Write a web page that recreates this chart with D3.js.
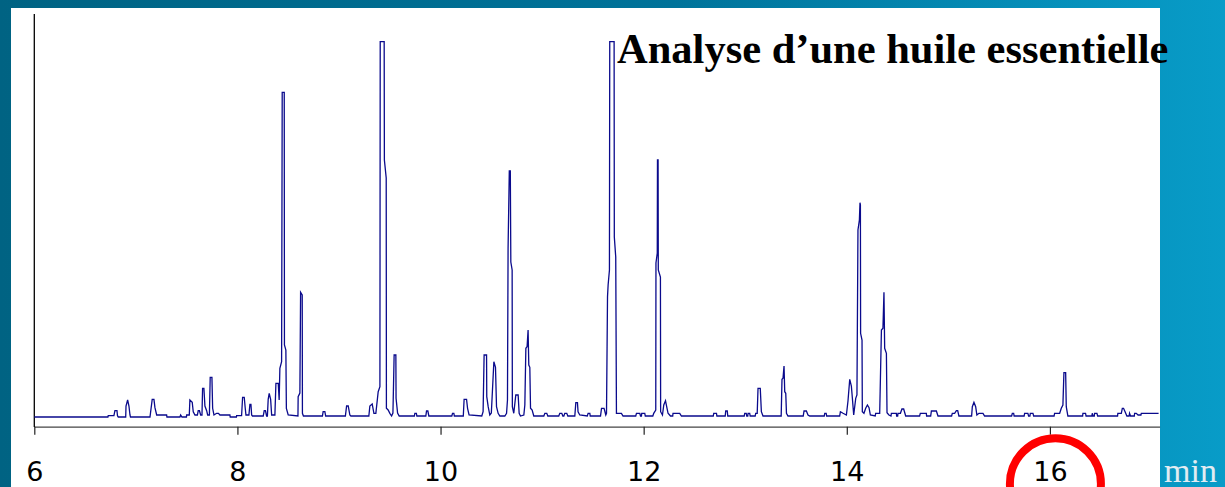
<!DOCTYPE html>
<html>
<head>
<meta charset="utf-8">
<script src="https://cdn.jsdelivr.net/npm/d3@7"></script>
<style>
  html, body { margin: 0; padding: 0; overflow: hidden; }
  svg { display: block; }
</style>
</head>
<body>
<svg id="chart" width="1225" height="487"></svg>
<script>
var retentionTimes = [
  6.000, 6.725, 6.728, 6.784, 6.794, 6.814, 6.819, 6.827, 6.900, 6.903,
  6.919, 6.932, 6.942, 6.947, 7.139, 7.161, 7.178, 7.188, 7.205, 7.303,
  7.306, 7.434, 7.441, 7.454, 7.498, 7.500, 7.526, 7.532, 7.555, 7.565,
  7.582, 7.606, 7.614, 7.626, 7.638, 7.651, 7.657, 7.670, 7.680, 7.697,
  7.707, 7.724, 7.732, 7.749, 7.756, 7.769, 7.795, 7.813, 7.828, 7.926,
  7.929, 7.990, 7.992, 8.041, 8.051, 8.067, 8.077, 8.084, 8.113, 8.123,
  8.133, 8.140, 8.148, 8.254, 8.264, 8.276, 8.287, 8.295, 8.303, 8.313,
  8.327, 8.337, 8.369, 8.379, 8.402, 8.411, 8.418, 8.435, 8.441, 8.461,
  8.463, 8.477, 8.482, 8.500, 8.596, 8.598, 8.615, 8.622, 8.638, 8.640,
  8.650, 8.837, 8.844, 8.861, 8.869, 9.063, 9.075, 9.091, 9.107, 9.117,
  9.294, 9.304, 9.327, 9.344, 9.363, 9.386, 9.403, 9.406, 9.445, 9.447,
  9.465, 9.467, 9.484, 9.501, 9.518, 9.531, 9.534, 9.543, 9.560, 9.562,
  9.577, 9.593, 9.742, 9.747, 9.762, 9.767, 9.855, 9.862, 9.875, 9.885,
  10.111, 10.118, 10.131, 10.136, 10.224, 10.232, 10.256, 10.266, 10.281, 10.406,
  10.419, 10.429, 10.453, 10.455, 10.469, 10.485, 10.500, 10.508, 10.525, 10.541,
  10.551, 10.567, 10.584, 10.633, 10.650, 10.659, 10.665, 10.677, 10.687, 10.692,
  10.705, 10.707, 10.721, 10.741, 10.764, 10.774, 10.787, 10.820, 10.830, 10.840,
  10.852, 10.862, 10.869, 10.879, 10.886, 10.902, 10.918, 11.017, 11.027, 11.046,
  11.056, 11.164, 11.174, 11.194, 11.204, 11.214, 11.223, 11.243, 11.253, 11.322,
  11.332, 11.348, 11.354, 11.371, 11.445, 11.453, 11.470, 11.474, 11.575, 11.585,
  11.610, 11.627, 11.634, 11.644, 11.650, 11.663, 11.666, 11.709, 11.711, 11.725,
  11.732, 11.781, 11.797, 11.922, 11.929, 11.962, 11.969, 11.978, 11.981, 12.011,
  12.016, 12.090, 12.099, 12.119, 12.121, 12.134, 12.136, 12.142, 12.144, 12.165,
  12.167, 12.185, 12.198, 12.215, 12.230, 12.240, 12.264, 12.286, 12.289, 12.355,
  12.372, 12.685, 12.690, 12.717, 12.721, 12.803, 12.808, 12.823, 12.828, 12.990,
  12.995, 13.010, 13.015, 13.025, 13.028, 13.044, 13.049, 13.098, 13.103, 13.118,
  13.126, 13.148, 13.159, 13.175, 13.354, 13.362, 13.372, 13.382, 13.389, 13.399,
  13.406, 13.421, 13.571, 13.579, 13.602, 13.618, 13.635, 13.778, 13.783, 13.797,
  13.802, 13.930, 13.937, 13.963, 13.996, 14.012, 14.029, 14.045, 14.055, 14.068,
  14.088, 14.100, 14.110, 14.124, 14.130, 14.134, 14.136, 14.150, 14.153, 14.169,
  14.186, 14.203, 14.219, 14.232, 14.280, 14.284, 14.324, 14.341, 14.356, 14.366,
  14.373, 14.390, 14.396, 14.415, 14.435, 14.439, 14.488, 14.491, 14.501, 14.504,
  14.528, 14.543, 14.560, 14.580, 14.717, 14.724, 14.783, 14.786, 14.826, 14.833,
  14.882, 14.898, 15.032, 15.039, 15.062, 15.079, 15.092, 15.104, 15.229, 15.236,
  15.252, 15.269, 15.281, 15.301, 15.341, 15.357, 15.623, 15.630, 15.643, 15.648,
  15.746, 15.751, 15.783, 15.790, 15.803, 15.807, 15.833, 15.840, 16.041, 16.046,
  16.096, 16.112, 16.128, 16.138, 16.155, 16.161, 16.177, 16.322, 16.325, 16.351,
  16.356, 16.413, 16.417, 16.425, 16.437, 16.440, 16.463, 16.470, 16.666, 16.669,
  16.703, 16.713, 16.725, 16.740, 16.758, 16.780, 16.784, 16.794, 16.831, 16.834,
  16.850, 16.868, 16.896, 16.900, 17.070
];

var intensities = [
  0, 0, 1.3, 1.3, 6.3, 6.3, 1.3, 0, 0, 11,
  17, 11, 2, 0, 0, 17.7, 17.7, 9.3, 2, 2,
  0, 0, 2, 0, 0, 2, 2, 17, 14.7, 5.3,
  2, 2, 6.3, 6.3, 2, 2, 28.7, 28.7, 11, 6.3,
  2, 2, 39.7, 39.7, 8.7, 2, 3.7, 3.7, 2, 2,
  0, 0, 1.3, 1.3, 19.7, 19.7, 8.7, 2, 2, 12.7,
  12.7, 2, 1, 1, 6.3, 6.3, 1, 1, 17.7, 23.7,
  17.7, 2, 2, 33.7, 33.7, 17, 48.7, 55.3, 324.7, 324.7,
  72, 67, 8.7, 2, 1, 20.3, 24, 124.7, 122, 3.7,
  1, 1, 5.3, 5.3, 1, 1, 11, 11, 2, 1,
  1, 11, 13, 3.7, 3.7, 25.3, 30.3, 375.3, 375.3, 257,
  239, 8.7, 7, 3.7, 1, 4, 17, 62, 62, 18.7,
  4, 1, 1, 3.7, 3.7, 1, 1, 6, 6, 1,
  1, 3.7, 3.7, 1, 1, 17.7, 17.7, 8.7, 2, 1,
  5.3, 62, 62, 20.3, 10.3, 2, 4, 20.3, 55.3, 49.7,
  10.3, 3.7, 1, 1, 3.7, 17, 169, 246, 246, 155,
  147, 10.3, 3.7, 22, 22, 3.7, 1, 2, 12, 68.7,
  70.3, 87, 52, 49.7, 8.7, 7, 1, 1, 3.7, 3.7,
  1, 1, 3.7, 3.7, 1, 1, 3.7, 3.7, 1, 1,
  14.3, 14.3, 5.3, 2, 1, 3.7, 3.7, 1, 1, 8.7,
  8.7, 2, 3.7, 120.3, 132, 147, 375.3, 375.3, 180, 160,
  3.7, 3.7, 1, 1, 3.7, 3.7, 1, 1, 3.7, 3.7,
  1, 1, 3.7, 7, 154, 164, 257, 257, 147, 140,
  5.3, 2, 12, 16.3, 8.7, 3.7, 1, 1, 3.7, 3.7,
  1, 1, 3.7, 3.7, 1, 1, 6, 6, 1, 1,
  3.7, 3.7, 1, 1, 3.7, 3.7, 1, 1, 3.7, 3.7,
  28.7, 28.7, 5.3, 1, 1, 37.7, 38.7, 51, 25.3, 23.7,
  3.7, 1, 1, 6, 6, 2, 1, 1, 3.7, 3.7,
  1, 1, 5.3, 3.7, 2, 16.3, 37.7, 31, 18.7, 2,
  18.7, 22, 187, 197, 214.3, 212, 83.7, 77, 5.3, 3.7,
  8.7, 12, 9.3, 2, 1, 3.7, 3.7, 87, 88.7, 124.7,
  68.7, 63.7, 4.3, 2, 1, 3.7, 3.7, 1, 1, 3.7,
  3.7, 8, 8, 1, 1, 3.7, 3.7, 1, 1, 6,
  6, 1, 1, 3.7, 3.7, 6.3, 6.3, 1, 1, 10.3,
  14.7, 10.3, 2, 3.7, 3.7, 1, 1, 3.7, 3.7, 1,
  1, 3.7, 3.7, 1, 1, 3.7, 3.7, 1, 1, 3.7,
  3.7, 8.7, 12, 44.3, 44.3, 10.3, 1, 1, 3.7, 3.7,
  1, 1, 3.7, 1, 1, 3.7, 3.7, 1, 1, 3.7,
  3.7, 8.7, 8.7, 5.3, 1, 1, 3.7, 1, 1, 3.7,
  3.7, 2, 2, 3.7, 3.7
];

var timeTicks = [6, 8, 10, 12, 14, 16];
var timeDomain = [6, 17.08];
var signalDomain = [0, 375];
var titleText = 'Analyse d\u2019une huile essentielle';
var unitText = 'min';
var circledTick = 16;

var svg = d3.select('#chart');

var x = d3.scaleLinear().domain(timeDomain).range([34.3, 1159.6]);
var y = d3.scaleLinear().domain(signalDomain).range([417, 42]);

drawBackground();
drawAxes();
drawTrace();
drawLabels();

function drawBackground() {
  var grad = svg.append('defs').append('linearGradient')
    .attr('id', 'bg')
    .attr('x1', '0%').attr('y1', '0%')
    .attr('x2', '100%').attr('y2', '0%');
  grad.append('stop').attr('offset', '0%').attr('stop-color', '#006383');
  grad.append('stop').attr('offset', '55%').attr('stop-color', '#00739a');
  grad.append('stop').attr('offset', '100%').attr('stop-color', '#089cc8');

  svg.append('rect')
    .attr('width', 1225).attr('height', 487)
    .attr('fill', 'url(#bg)');

  svg.append('rect')
    .attr('x', 11).attr('y', 8)
    .attr('width', 1149).attr('height', 479)
    .attr('fill', '#ffffff');
}

function drawAxes() {
  var axis = d3.axisBottom(x)
    .tickValues(timeTicks)
    .tickFormat(d3.format('d'))
    .tickSize(8)
    .tickSizeOuter(0)
    .tickPadding(27);

  var g = svg.append('g')
    .attr('transform', 'translate(0,426.7)')
    .call(axis);

  g.select('.domain').attr('stroke', '#444').attr('stroke-width', 1.2);
  g.selectAll('.tick line').attr('stroke', '#222').attr('stroke-width', 1.2);
  g.selectAll('.tick text')
    .attr('fill', '#000')
    .style('font-family', '"DejaVu Sans", Verdana, sans-serif')
    .style('font-size', '27px');

  svg.append('line')
    .attr('x1', x(timeDomain[0])).attr('x2', x(timeDomain[0]))
    .attr('y1', 14).attr('y2', 427)
    .attr('stroke', '#000')
    .attr('stroke-width', 1.3);
}

function drawTrace() {
  var line = d3.line()
    .x(function (d, i) { return x(retentionTimes[i]); })
    .y(function (d) { return y(d); });

  svg.append('path')
    .datum(intensities)
    .attr('d', line)
    .attr('fill', 'none')
    .attr('stroke', '#0a0a8c')
    .attr('stroke-width', 1.3)
    .attr('stroke-linejoin', 'miter');
}

function drawLabels() {
  svg.append('text')
    .attr('x', 617)
    .attr('y', 63)
    .style('font-family', '"Liberation Serif", "Times New Roman", serif')
    .style('font-weight', 'bold')
    .style('font-size', '42.5px')
    .attr('fill', '#000')
    .text(titleText);

  svg.append('text')
    .attr('x', 1164)
    .attr('y', 481.5)
    .style('font-family', '"Liberation Serif", "Times New Roman", serif')
    .style('font-size', '34px')
    .attr('fill', '#e2ecf2')
    .text(unitText);

  svg.append('circle')
    .attr('cx', x(circledTick) + 5.5)
    .attr('cy', 483.8)
    .attr('r', 45.5)
    .attr('fill', 'none')
    .attr('stroke', '#ff0000')
    .attr('stroke-width', 8);
}
</script>
</body>
</html>
